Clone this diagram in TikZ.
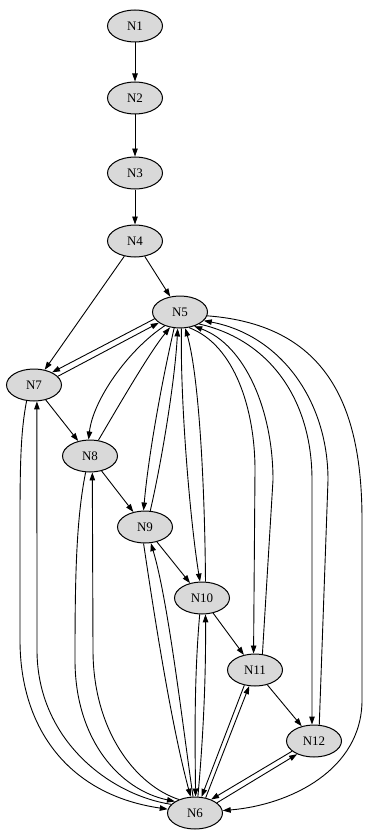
\documentclass[tikz,border=0pt]{standalone}
\usepackage{fontspec}
\setmainfont{Liberation Serif}
\usetikzlibrary{shapes.geometric,arrows.meta}
\tikzset{
  vertex/.style={ellipse,draw=black,line width=1pt,fill=gray!30,minimum width=55pt,minimum height=32pt,inner sep=0pt,font=\fontsize{13}{13}\selectfont},
  edge/.style={line width=0.9pt,-{Triangle[length=8pt,width=5.5pt]}}
}
\begin{document}
\begin{tikzpicture}[x=1pt,y=-1pt]
\fill[white] (0,0) rectangle (367,832);
\useasboundingbox (0,0) rectangle (367,832);
\node[vertex] (N1) at (135,26) {N1};
\node[vertex] (N2) at (135,98) {N2};
\node[vertex] (N3) at (135,173) {N3};
\node[vertex] (N4) at (135,241) {N4};
\node[vertex] (N5) at (180,312) {N5};
\node[vertex] (N7) at (34,385) {N7};
\node[vertex] (N8) at (90,456) {N8};
\node[vertex] (N9) at (145,527) {N9};
\node[vertex] (N10) at (202,598) {N10};
\node[vertex] (N11) at (255,670) {N11};
\node[vertex] (N12) at (314,741) {N12};
\node[vertex] (N6) at (195,813) {N6};
% chain
\draw[edge] (N1) -- (N2);
\draw[edge] (N2) -- (N3);
\draw[edge] (N3) -- (N4);
\draw[edge] (N4) -- (N5);
\draw[edge] (N4) -- (N7);
\draw[edge] (N7) -- (N8);
\draw[edge] (N8) -- (N9);
\draw[edge] (N9) -- (N10);
\draw[edge] (N10) -- (N11);
\draw[edge] (N11) -- (N12);
% N5 pairs
\draw[edge] (N5.195) -- (N7.35);
\draw[edge] (N7.20) -- (N5.207);
\draw[edge] (N5.222) .. controls (128,350) and (93,400) .. (N8.95);
\draw[edge] (N8.62) .. controls (122,400) and (150,352) .. (N5.237);
\draw[edge] (N5.250) .. controls (160,390) and (148,460) .. (N9.95);
\draw[edge] (N9.72) .. controls (162,460) and (175,380) .. (N5.262);
\draw[edge] (N5.275) .. controls (180,400) and (190,520) .. (N10.97);
\draw[edge] (N10.78) .. controls (205,500) and (200,380) .. (N5.288);
\draw[edge] (N5.300) .. controls (235,345) and (255,410) .. (255,470) -- (N11.95);
\draw[edge] (N11.65) -- (273,480) .. controls (273,410) and (245,345) .. (N5.315);
\draw[edge] (N5.328) .. controls (270,340) and (312,400) .. (312,480) -- (N12.97);
\draw[edge] (N12.72) -- (328,480) .. controls (328,400) and (280,335) .. (N5.340);
\draw[edge] (N5.352) .. controls (330,325) and (362,410) .. (362,520) -- (362,700) .. controls (362,770) and (290,805) .. (N6.5);
% N6 pairs
\draw[edge] (N7.245) .. controls (21,430) and (20,460) .. (20,520) -- (20,640) .. controls (20,730) and (70,795) .. (N6.172);
\draw[edge] (N6.160) .. controls (110,795) and (37,740) .. (37,650) -- (N7.280);
\draw[edge] (N8.255) .. controls (76,520) and (75,580) .. (75,660) .. controls (75,740) and (120,790) .. (N6.150);
\draw[edge] (N6.140) .. controls (135,785) and (93,730) .. (93,650) -- (N8.278);
\draw[edge] (N9.265) .. controls (152,600) and (170,720) .. (N6.105);
\draw[edge] (N6.97) .. controls (182,720) and (168,600) .. (N9.290);
\draw[edge] (N10.262) .. controls (194,680) and (195,740) .. (N6.88);
\draw[edge] (N6.80) .. controls (203,740) and (206,680) .. (N10.282);
\draw[edge] (N11.235) -- (N6.68);
\draw[edge] (N6.55) -- (N11.250);
\draw[edge] (N12.205) -- (N6.40);
\draw[edge] (N6.25) -- (N12.218);
\end{tikzpicture}
\end{document}
